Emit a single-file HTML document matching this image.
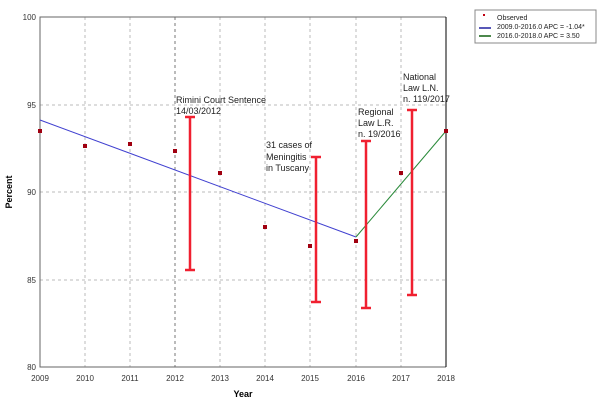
<!DOCTYPE html>
<html><head><style>body{margin:0;background:#fff}svg{display:block}</style></head><body>
<svg width="602" height="406" xmlns="http://www.w3.org/2000/svg" font-family="Liberation Sans, sans-serif">
<g stroke="#bbb" stroke-dasharray="3,3" stroke-width="1">
<line x1="85" y1="17" x2="85" y2="367"/><line x1="130" y1="17" x2="130" y2="367"/>
<line x1="175" y1="17" x2="175" y2="367" stroke="#777"/><line x1="220" y1="17" x2="220" y2="367"/>
<line x1="265" y1="17" x2="265" y2="367"/><line x1="310" y1="17" x2="310" y2="367"/>
<line x1="356" y1="17" x2="356" y2="367"/><line x1="401" y1="17" x2="401" y2="367"/>
<line x1="40" y1="105" x2="446" y2="105"/><line x1="40" y1="192" x2="446" y2="192"/><line x1="40" y1="280" x2="446" y2="280"/>
</g>
<polyline points="446,17 40,17 40,367 446,367" fill="none" stroke="#666"/>
<line x1="446" y1="17" x2="446" y2="367" stroke="#000"/>
<line x1="40" y1="120" x2="356" y2="237" stroke="#4040d0"/>
<line x1="356" y1="237" x2="446" y2="131" stroke="#2a8a3a"/>
<g stroke="#f02030" stroke-width="2.5">
<line x1="190" y1="117" x2="190" y2="270"/><line x1="185" y1="117" x2="195" y2="117"/><line x1="185" y1="270" x2="195" y2="270"/>
<line x1="316" y1="157" x2="316" y2="302"/><line x1="311" y1="157" x2="321" y2="157"/><line x1="311" y1="302" x2="321" y2="302"/>
<line x1="366" y1="141" x2="366" y2="308"/><line x1="361" y1="141" x2="371" y2="141"/><line x1="361" y1="308" x2="371" y2="308"/>
<line x1="412" y1="110" x2="412" y2="295"/><line x1="407" y1="110" x2="417" y2="110"/><line x1="407" y1="295" x2="417" y2="295"/>
</g>
<g fill="#a00010">
<rect x="38" y="129" width="4" height="4"/><rect x="83" y="144" width="4" height="4"/><rect x="128" y="142" width="4" height="4"/>
<rect x="173" y="149" width="4" height="4"/><rect x="218" y="171" width="4" height="4"/><rect x="263" y="225" width="4" height="4"/>
<rect x="308" y="244" width="4" height="4"/><rect x="354" y="239" width="4" height="4"/><rect x="399" y="171" width="4" height="4"/>
<rect x="444" y="129" width="4" height="4"/>
</g>
<g font-size="8" fill="#333" text-anchor="end">
<text x="36" y="20">100</text><text x="36" y="108">95</text><text x="36" y="195">90</text><text x="36" y="283">85</text><text x="36" y="370">80</text>
</g>
<g font-size="8" fill="#333" text-anchor="middle">
<text x="40" y="381">2009</text><text x="85" y="381">2010</text><text x="130" y="381">2011</text><text x="175" y="381">2012</text><text x="220" y="381">2013</text>
<text x="265" y="381">2014</text><text x="310" y="381">2015</text><text x="356" y="381">2016</text><text x="401" y="381">2017</text><text x="446" y="381">2018</text>
</g>
<text x="243" y="397" font-size="9" font-weight="bold" text-anchor="middle">Year</text>
<text x="12" y="192" font-size="9" font-weight="bold" text-anchor="middle" transform="rotate(-90 12 192)">Percent</text>
<g font-size="9" fill="#222">
<text x="176" y="103">Rimini Court Sentence</text><text x="176" y="114">14/03/2012</text>
<text x="266" y="148">31 cases of</text><text x="266" y="160">Meningitis</text><text x="266" y="171">in Tuscany</text>
<text x="358" y="115">Regional</text><text x="358" y="126">Law L.R.</text><text x="358" y="137">n. 19/2016</text>
<text x="403" y="80">National</text><text x="403" y="91">Law L.N.</text><text x="403" y="102">n. 119/2017</text>
</g>
<rect x="475" y="10" width="121" height="33" fill="#fff" stroke="#888"/>
<rect x="483" y="14" width="2" height="2" fill="#c00010"/>
<line x1="479" y1="28" x2="491" y2="28" stroke="#2020a0" stroke-width="1.5"/>
<line x1="479" y1="36" x2="491" y2="36" stroke="#106010" stroke-width="1.5"/>
<g font-size="7" fill="#222">
<text x="497" y="20">Observed</text><text x="497" y="29">2009.0-2016.0 APC  = -1.04*</text><text x="497" y="38">2016.0-2018.0 APC  =  3.50</text>
</g>
</svg>
</body></html>
